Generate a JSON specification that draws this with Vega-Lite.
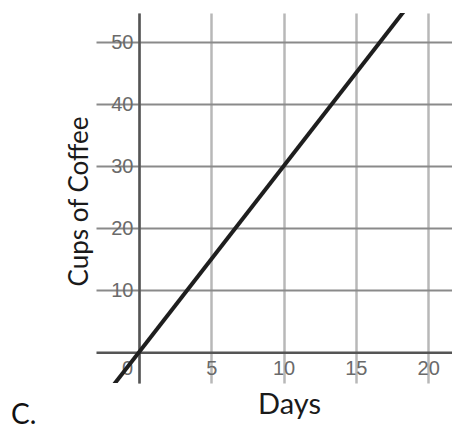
{
  "$schema": "https://vega.github.io/schema/vega-lite/v6.json",
  "width": 356,
  "height": 370,
  "autosize": {"type": "none"},
  "padding": {"left": 96, "top": 13, "right": 0, "bottom": 47},
  "background": "white",
  "title": {
    "text": "C.",
    "orient": "bottom",
    "anchor": "start",
    "frame": "bounds",
    "dx": -55,
    "offset": -17,
    "font": "Lato",
    "fontSize": 28,
    "fontWeight": "normal",
    "color": "#111111"
  },
  "config": {"view": {"stroke": null}},
  "data": {"values": [{"days": -2, "cups": -6}, {"days": 19, "cups": 57}]},
  "mark": {"type": "line", "clip": true, "color": "#1e1e1e", "strokeWidth": 4},
  "encoding": {
    "x": {
      "field": "days",
      "type": "quantitative",
      "scale": {"domain": [-2.97, 21.65], "nice": false, "zero": false},
      "axis": {
        "title": "Days",
        "values": [0, 5, 10, 15, 20],
        "offset": -30.7,
        "grid": true,
        "gridColor": "#b8b8b8",
        "gridWidth": 2.5,
        "gridOpacity": 1,
        "domain": true,
        "domainColor": "#555555",
        "domainWidth": 2.5,
        "ticks": false,
        "labelPadding": 6,
        "labelFlush": false,
        "labelFont": "Liberation Sans",
        "labelFontSize": 20,
        "labelColor": "#6a6a6a",
        "labelOffset": {"condition": {"test": "datum.value === 0", "value": -12}, "value": 0},
        "titleFont": "Lato",
        "titleFontSize": 29,
        "titleFontWeight": "normal",
        "titleColor": "#1a1a1a",
        "titleX": 193,
        "titleY": 60.7,
        "titleAlign": "center",
        "titleBaseline": "alphabetic"
      }
    },
    "y": {
      "field": "cups",
      "type": "quantitative",
      "scale": {"domain": [-4.95, 54.7], "nice": false, "zero": false},
      "axis": {
        "title": "Cups of Coffee",
        "values": [10, 20, 30, 40, 50],
        "offset": -43,
        "grid": true,
        "gridColor": "#8a8a8a",
        "gridWidth": 2,
        "gridOpacity": 1,
        "domain": true,
        "domainColor": "#555555",
        "domainWidth": 2.5,
        "ticks": false,
        "labelPadding": 6,
        "labelFlush": false,
        "labelFont": "Liberation Sans",
        "labelFontSize": 20,
        "labelColor": "#6a6a6a",
        "titleFont": "Lato",
        "titleFontSize": 26,
        "titleFontWeight": "normal",
        "titleColor": "#1a1a1a",
        "titleAngle": -90,
        "titleX": -52,
        "titleY": 188,
        "titleAlign": "center",
        "titleBaseline": "alphabetic"
      }
    }
  }
}
